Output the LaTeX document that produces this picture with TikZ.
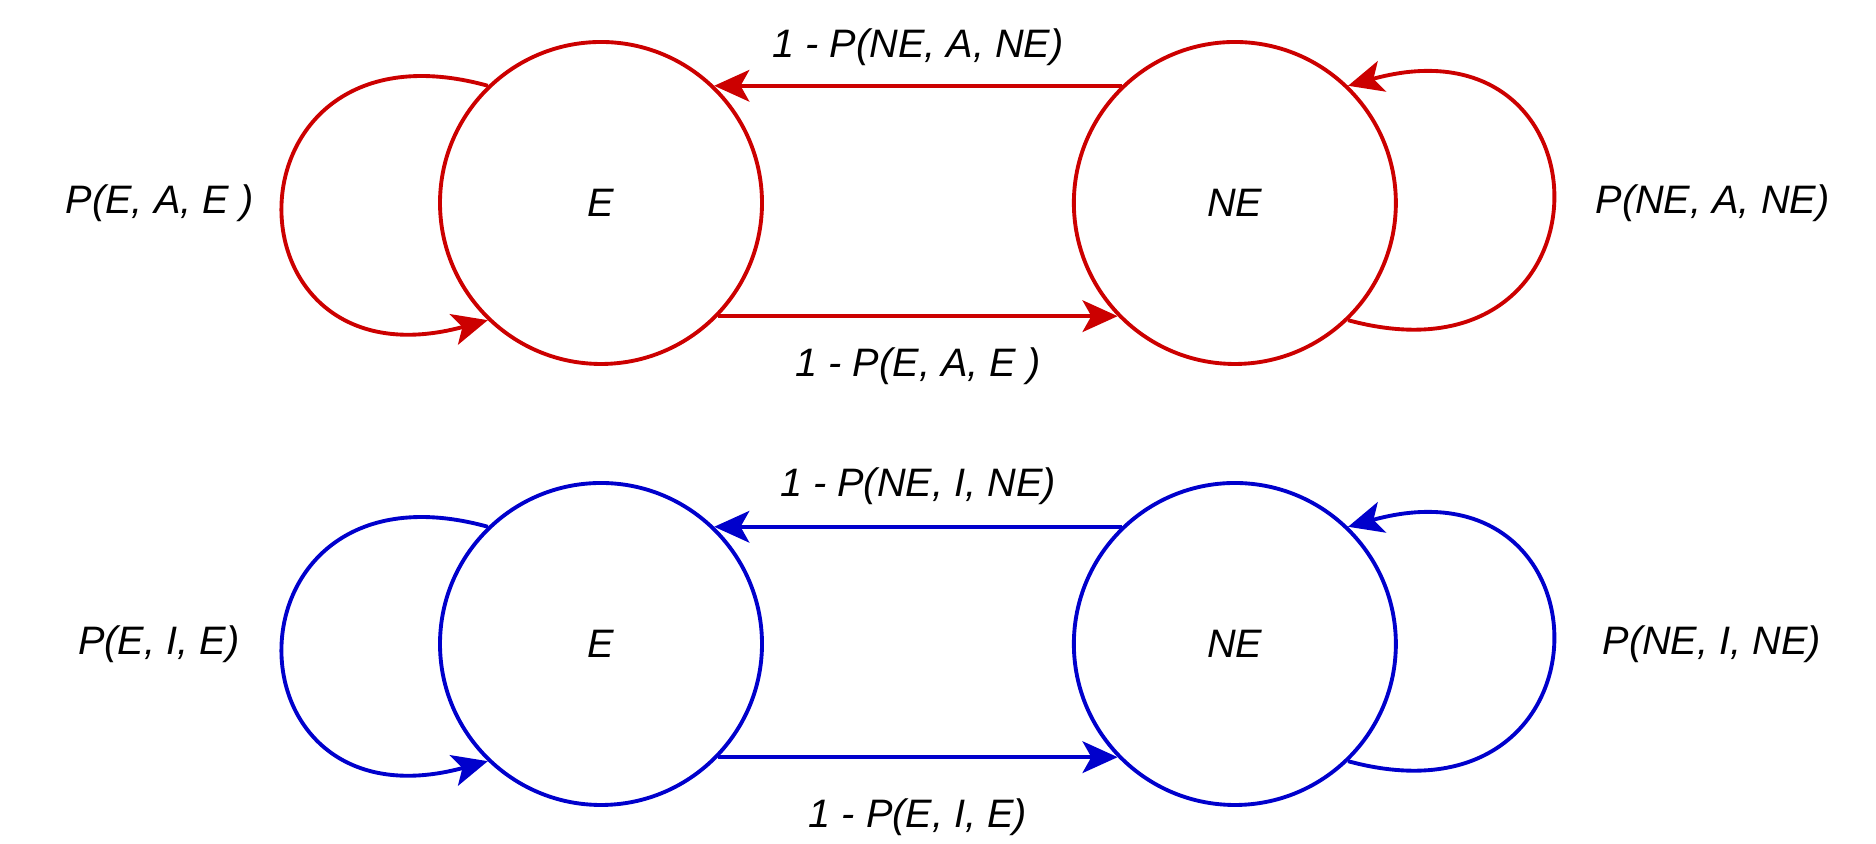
\documentclass[tikz,border=0pt]{standalone}
\usepackage{fontspec}
\setmainfont{Liberation Sans}
\definecolor{actred}{RGB}{204, 0, 0}
\definecolor{inablue}{RGB}{0, 0, 204}
\usepackage{tikz}
\usetikzlibrary{arrows.meta, positioning}
\newcommand{\lblfont}{\fontsize{11.3}{13}\selectfont\itshape}

\begin{document}
\begin{tikzpicture}[node distance=3.08cm,
  state/.style={circle, line width=1.1pt, minimum size=3.22cm, inner sep=0pt, font=\lblfont},
  trans/.style={-{Stealth[length=10pt, width=9pt, inset=2.5pt]}, line width=1.1pt},
  plab/.style={inner sep=0pt, font=\lblfont}]
  \useasboundingbox (0,0) rectangle (18.76,8.44);
  % Active row
  \node[state, draw=actred] (Ea) at (6.01, 6.41) {E};
  \node[state, draw=actred, right=of Ea] (NEa) {NE};
  \draw[trans, actred] (NEa.134) -- node[plab, midway, above=0.18cm, text=black] (ta) {1 - P(NE, A, NE)} (Ea.46);
  \draw[trans, actred] (Ea.-44) -- node[plab, midway, below=0.30cm, text=black] (ba) {1 - P(E, A, E )} (NEa.-136);
  % Self loops
  \draw[trans, actred] (Ea.134) .. controls +(-2.7,0.75) and +(-2.72,-0.74) .. (Ea.226);
  \draw[trans, actred] (NEa.-46) .. controls +(2.72,-0.74) and +(2.7,0.75) .. (NEa.46);
  \node[plab, left=1.84cm of Ea] (la) {P(E, A, E )};
  \node[plab, right=1.97cm of NEa] (ra) {P(NE, A, NE)};
  % Inactive row
  \node[state, draw=inablue] (Ei) at (6.01, 2.00) {E};
  \node[state, draw=inablue, right=of Ei] (NEi) {NE};
  \draw[trans, inablue] (NEi.134) -- node[plab, midway, above=0.2cm, text=black] (ti) {1 - P(NE, I, NE)} (Ei.46);
  \draw[trans, inablue] (Ei.-44) -- node[plab, midway, below=0.40cm, text=black] (bi) {1 - P(E, I, E)} (NEi.-136);
  % Self loops
  \draw[trans, inablue] (Ei.134) .. controls +(-2.7,0.75) and +(-2.72,-0.74) .. (Ei.226);
  \draw[trans, inablue] (NEi.-46) .. controls +(2.72,-0.74) and +(2.7,0.75) .. (NEi.46);
  \node[plab, left=1.98cm of Ei] (li) {P(E, I, E)};
  \node[plab, right=2.04cm of NEi] (ri) {P(NE, I, NE)};
\end{tikzpicture}
\end{document}
